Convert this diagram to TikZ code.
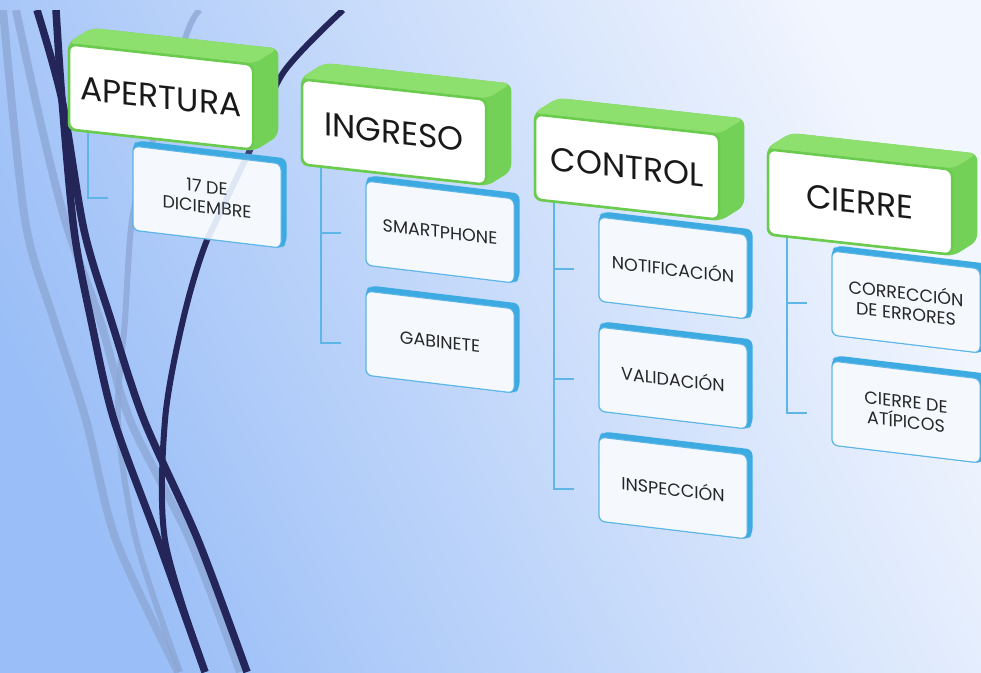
\documentclass[tikz,border=0pt]{standalone}
\usepackage{fontspec}
\setmainfont{Poppins}
\usepackage{tikz}
\usetikzlibrary{calc,positioning}
\definecolor{bgdark}{HTML}{9ABEF7}
\definecolor{bgmid}{HTML}{BAD3FA}
\definecolor{bglight}{HTML}{F2F6FE}
\definecolor{navy}{HTML}{24265A}
\definecolor{mist}{HTML}{8CA6D4}
\definecolor{leafgreen}{HTML}{6ACB4E}
\definecolor{leaftop}{HTML}{8DDF6E}
\definecolor{leafside}{HTML}{74D157}
\definecolor{skyblue}{HTML}{3DAAE2}
\definecolor{skyline}{HTML}{5DB6E6}
\definecolor{cardwhite}{HTML}{F5F8FD}
\pgfdeclarelayer{bgl}
\pgfdeclarelayer{cback}
\pgfdeclarelayer{hback}
\pgfdeclarelayer{hfront}
\pgfsetlayers{bgl,cback,main,hback,hfront}

\begin{document}
\begin{tikzpicture}[x=1pt,y=-1pt,
    head/.style={draw=leafgreen,line width=2.5pt,fill=white,rounded corners=7pt,text=black!90,
      minimum width=184pt,minimum height=85pt,inner sep=0pt,yslant=-0.11,font=\fontsize{33}{35}\selectfont},
    card/.style={draw=skyline,line width=1pt,fill=cardwhite,rounded corners=6pt,text=black!85,
      minimum width=148pt,minimum height=84pt,inner sep=0pt,yslant=-0.12,align=center,font=\fontsize{17.5}{20}\selectfont},
    brk/.style={skyline,line width=2.5pt},
    ribbon/.style={navy,line width=7.5pt},
    haze/.style={mist,line width=8pt,opacity=0.75}]
    \useasboundingbox (0,0) rectangle (981,672);
    % background and curves
    \begin{pgfonlayer}{bgl}
      \shade[left color=bgdark,middle color=bgmid,right color=bglight,shading angle=115] (0,0) rectangle (981,672);
      \begin{scope}
        \clip (0,10) rectangle (981,672);
        \draw[haze] plot[smooth] coordinates {(3,10) (25,220) (54,320) (86,420) (116,540) (178,672)};
        \draw[haze] plot[smooth] coordinates {(16,10) (40,120) (65,220) (100,320) (130,420) (190,540) (240,672)};
        \draw[haze,line width=6pt] plot[smooth] coordinates {(200,10) (187,33) (150,150) (132,220) (125,320) (118,420) (136,540) (180,672)};
        \draw[ribbon] plot[smooth] coordinates {(37,10) (62,100) (84,230) (111,320) (144,420) (198,540) (247,672)};
        \draw[ribbon] plot[smooth] coordinates {(56,10) (62,100) (74,230) (91,320) (114,420) (158,540) (205,672)};
        \draw[ribbon,line width=6pt] plot[smooth] coordinates {(343,10) (283,73) (250,150) (207,240) (183,320) (165,420) (165,540) (205,672)};
      \end{scope}
    \end{pgfonlayer}
    % headers
    \begin{pgfonlayer}{hfront}
      \node[head] (apert) at (161,97) {APERTURA};
      \node[head] (ingreso) at (394,132) {INGRESO};
      \node[head] (control) at (627,167) {CONTROL};
      \node[head] (cierre) at (860,202) {CIERRE};
    \end{pgfonlayer}
    % cards
    \node[card] (dic) at (207,197) {17 DE\\DICIEMBRE};
    \node[card] (smart) at (440,232) {SMARTPHONE};
    \node[card] (gab) at (440,342) {GABINETE};
    \node[card] (notif) at (673,268) {NOTIFICACIÓN};
    \node[card] (valid) at (673,378) {VALIDACIÓN};
    \node[card] (insp) at (673,488) {INSPECCIÓN};
    \node[card] (correc) at (906,302) {CORRECCIÓN\\DE ERRORES};
    \node[card] (atip) at (906,412) {CIERRE DE\\ATÍPICOS};
    \draw[mist,line width=6pt,opacity=0.2] plot[smooth] coordinates {(262,125) (250,150) (207,240)};
    % depth of the boxes
    \begin{pgfonlayer}{hback}
      \foreach \h in {apert,ingreso,control,cierre}{
        \fill[leafside,rounded corners=7pt] (\h.north west) -- ($(\h.north west)+(24,-15)$) -- ($(\h.north east)+(24,-15)$)
          -- ($(\h.south east)+(24,-15)$) -- (\h.south east) -- (\h.south west) -- cycle;
        \fill[leaftop,rounded corners=7pt] (\h.north west) -- ($(\h.north west)+(24,-15)$) -- ($(\h.north east)+(24,-15)$)
          -- (\h.north east) -- cycle;
      }
    \end{pgfonlayer}
    \begin{pgfonlayer}{cback}
      \foreach \c in {dic,smart,gab,notif,valid,insp,correc,atip}{
        \fill[skyblue,rounded corners=6pt] (\c.north west) -- ($(\c.north west)+(5,-5)$) -- ($(\c.north east)+(5,-5)$)
          -- ($(\c.south east)+(5,-5)$) -- (\c.south east) -- (\c.south west) -- cycle;
      }
    \end{pgfonlayer}
    % connectors
    \foreach \h/\c in {apert/dic,ingreso/smart,ingreso/gab,control/notif,control/valid,control/insp,cierre/correc,cierre/atip}
      {\draw[brk] ($(\h.south west)+(20,0)$) |- ($(\c.west)+(-25,10)$);}
  \end{tikzpicture}
\end{document}
